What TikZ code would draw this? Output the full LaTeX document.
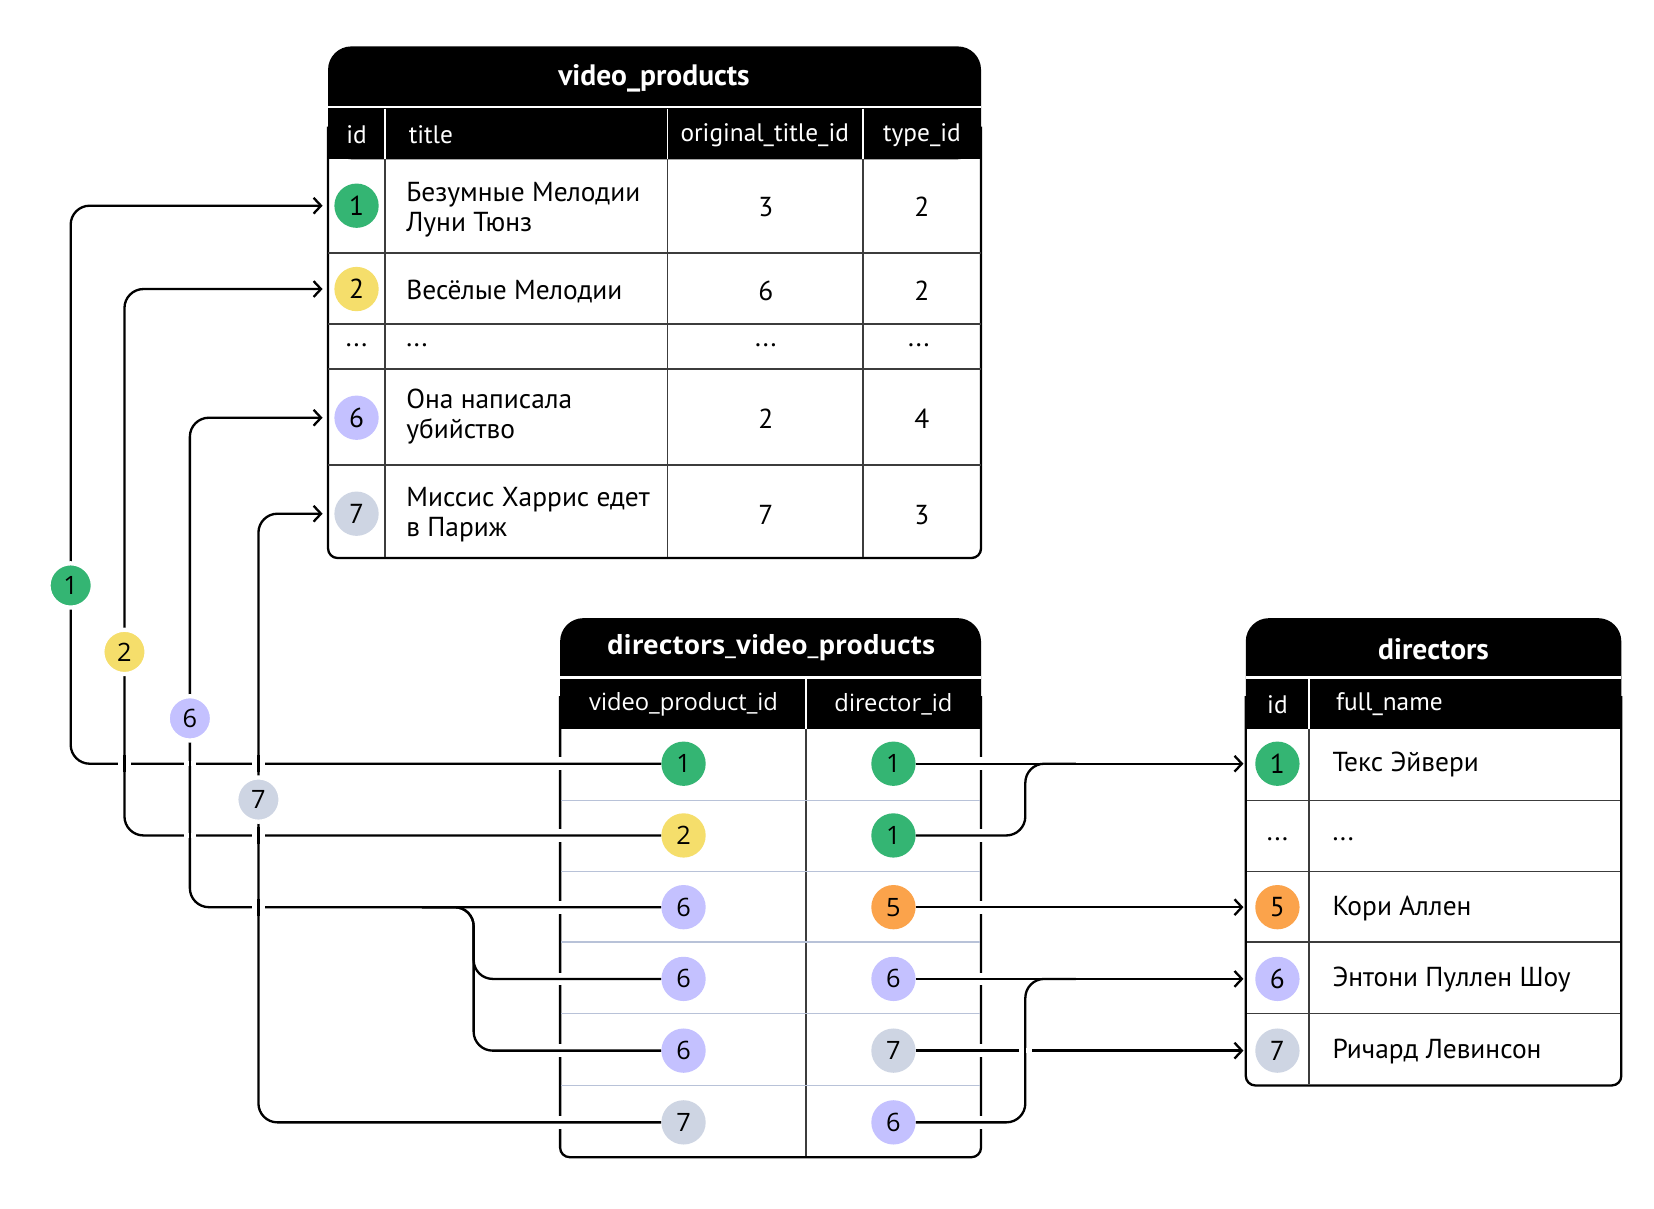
\documentclass[tikz,border=0pt]{standalone}
\usepackage{fontspec}
\setmainfont{PT Sans}
\newfontfamily\osans{Open Sans}
\usetikzlibrary{arrows.meta}
\definecolor{cgreen}{RGB}{52,181,115}
\definecolor{cyellow}{RGB}{245,222,107}
\definecolor{clav}{RGB}{196,193,255}
\definecolor{cgray}{RGB}{206,213,227}
\definecolor{corange}{RGB}{251,163,75}
\definecolor{grid}{RGB}{60,60,60}
\definecolor{lgrid}{RGB}{184,194,216}
\tikzset{
  conn/.style={draw=black, line width=2.2, rounded corners=18},
  arr/.style={-{Straight Barb[length=7,width=15,line width=2.2]}, shorten >=11},
  dot/.style={circle, minimum size=42, inner sep=0, font=\fontsize{26}{26}\selectfont},
  mdot/.style={circle, minimum size=42, inner sep=0, font=\osans\fontsize{24}{24}\selectfont},
  lab/.style={mdot, draw=white, line width=4},
  ttl/.style={text=white, font=\bfseries\fontsize{28}{32}\selectfont},
  mttl/.style={text=white, font=\osans\bfseries\fontsize{25}{29}\selectfont},
  hdr/.style={text=white, font=\fontsize{24}{28}\selectfont},
  mhdr/.style={text=white, font=\osans\fontsize{22.5}{26}\selectfont},
  cell/.style={font=\fontsize{26}{28}\selectfont, inner sep=0},
  ccell/.style={align=left, anchor=west, font=\fontsize{26}{28}\selectfont, inner sep=0},
  tb/.style={draw=black, line width=2.2},
  gl/.style={draw=grid, line width=1.4},
  lgl/.style={draw=lgrid, line width=1.4},
  wsep/.style={draw=white, line width=2.5},
  gap/.style={draw=white, line width=5}
}
\begin{document}
\begin{tikzpicture}[x=1pt,y=-1pt]
\useasboundingbox (0,0) rectangle (1568,1146);
\fill[white] (0,0) rectangle (1568,1146);

% ===== video_products =====
\draw[tb, rounded corners=9] (311,120) -- (311,529) -- (930,529) -- (930,120);
\fill[black, rounded corners=22] (311,44) rectangle (930,151);
\fill[black] (311,120) rectangle (930,151);
\draw[wsep] (311,101.5) -- (930,101.5);
\foreach \x in {365,633,818} \draw[draw=white, line width=1.4] (\x,103) -- (\x,151);
\foreach \x in {365,633,818} \draw[gl] (\x,151) -- (\x,528);
\foreach \y in {240,307,350,441} \draw[gl] (311,\y) -- (930,\y);
\node[ttl] (vpt) at (620,74) {video\_products};
\node[hdr] (vph1) at (338,128) {id};
\node[hdr, anchor=west] (vph2) at (384,128) {title};
\node[hdr] (vph3) at (725,128) {original\_title\_id};
\node[hdr] (vph4) at (874,128) {type\_id};
\node[dot, fill=cgreen] (v1) at (338,195) {1};
\node[dot, fill=cyellow] (v2) at (338,274) {2};
\node[dot, fill=clav] (v6) at (338,396) {6};
\node[dot, fill=cgray] (v7) at (338,487) {7};
\node[cell] (vd0) at (338,327) {...};
\node[ccell] (vt1) at (385,199) {Безумные Мелодии\\Луни Тюнз};
\node[ccell] (vt2) at (385,276) {Весёлые Мелодии};
\node[ccell] (vt3) at (385,327) {...};
\node[ccell] (vt6) at (385,395) {Она написала\\убийство};
\node[ccell] (vt7) at (385,488) {Миссис Харрис едет\\в Париж};
\node[cell] (vo1) at (726,196) {3};
\node[cell] (vo2) at (726,276) {6};
\node[cell] (vo3) at (726,327) {...};
\node[cell] (vo6) at (726,397) {2};
\node[cell] (vo7) at (726,488) {7};
\node[cell] (vy1) at (874,196) {2};
\node[cell] (vy2) at (874,276) {2};
\node[cell] (vy3) at (871,327) {...};
\node[cell] (vy6) at (874,397) {4};
\node[cell] (vy7) at (874,488) {3};

% ===== directors_video_products =====
\draw[tb, rounded corners=9] (531,660) -- (531,1097) -- (930,1097) -- (930,660);
\fill[black, rounded corners=22] (531,586) rectangle (930,691);
\fill[black] (531,660) rectangle (930,691);
\draw[wsep] (531,642.5) -- (930,642.5);
\draw[draw=white, line width=1.2] (764,644) -- (764,691);
\draw[gl, line width=1.2] (764,691) -- (764,1096);
\foreach \y in {759,826,893,961,1029} \draw[lgl] (532,\y) -- (929,\y);
\node[mttl] (dvt) at (731,614) {directors\_video\_products};
\node[mhdr] (dvh1) at (648,668) {video\_product\_id};
\node[mhdr] (dvh2) at (847,668) {director\_id};
\node[mdot, fill=cgreen] (a1) at (648,724) {1};
\node[mdot, fill=cyellow] (a2) at (648,792) {2};
\node[mdot, fill=clav] (a3) at (648,860) {6};
\node[mdot, fill=clav] (a4) at (648,928) {6};
\node[mdot, fill=clav] (a5) at (648,996) {6};
\node[mdot, fill=cgray] (a6) at (648,1064) {7};
\node[mdot, fill=cgreen] (b1) at (847,724) {1};
\node[mdot, fill=cgreen] (b2) at (847,792) {1};
\node[mdot, fill=corange] (b3) at (847,860) {5};
\node[mdot, fill=clav] (b4) at (847,928) {6};
\node[mdot, fill=cgray] (b5) at (847,996) {7};
\node[mdot, fill=clav] (b6) at (847,1064) {6};

% ===== directors =====
\draw[tb, rounded corners=9] (1181,660) -- (1181,1029) -- (1537,1029) -- (1537,660);
\fill[black, rounded corners=22] (1181,586) rectangle (1537,691);
\fill[black] (1181,660) rectangle (1537,691);
\draw[wsep] (1181,642.5) -- (1537,642.5);
\draw[draw=white, line width=1.4] (1241,644) -- (1241,691);
\draw[gl] (1241,691) -- (1241,1028);
\foreach \y in {759,826,893,961} \draw[gl] (1182,\y) -- (1536,\y);
\node[ttl] (drt) at (1359,615) {directors};
\node[hdr] (drh1) at (1211,668) {id};
\node[hdr, anchor=west] (drh2) at (1263,668) {full\_name};
\node[dot, fill=cgreen] (d1) at (1211,724) {1};
\node[cell] (dd0) at (1211,796) {...};
\node[dot, fill=corange] (d5) at (1211,860) {5};
\node[dot, fill=clav] (d6) at (1211,928) {6};
\node[dot, fill=cgray] (d7) at (1211,996) {7};
\node[ccell] (dn1) at (1263,725) {Текс Эйвери};
\node[ccell] (dn0) at (1263,796) {...};
\node[ccell] (dn5) at (1263,861) {Кори Аллен};
\node[ccell] (dn6) at (1263,929) {Энтони Пуллен Шоу};
\node[ccell] (dn7) at (1263,997) {Ричард Левинсон};

% gaps in table borders where connectors cross
\foreach \y in {724,792,860,928,996,1064} {
  \draw[gap] (531,\y-6) -- (531,\y+6);
  \draw[gap] (930,\y-6) -- (930,\y+6);
}

% ===== connectors =====
\coordinate (k1) at (67,555);
\coordinate (k2) at (118,618);
\coordinate (k6) at (180,681);
\coordinate (k7) at (245,758);
\coordinate (j6) at (400,860);
\coordinate (j1) at (1020,724);
\coordinate (j6r) at (1020,928);

\draw[conn, arr] (a1.west) -| (k1) |- (v1.west);
\draw[conn, arr] (a2.west) -| (k2) |- (v2.west);
\draw[conn, arr] (a3.west) -| (k6) |- (v6.west);
\draw[conn, arr] (a6.west) -| (k7) |- (v7.west);
\draw[conn] (a4.west) -- (449,928) -- (449,860) -- (j6);
\draw[conn] (a5.west) -- (449,996) -- (449,860) -- (j6);

\draw[conn, arr] (b1.east) -- (d1.west);
\draw[conn] (b2.east) -- (972,792) -- (972,724) -- (j1);
\draw[conn, arr] (b3.east) -- (d5.west);
\draw[conn, arr] (b4.east) -- (d6.west);
\draw[conn, arr] (b5.east) -- (d7.west);
\draw[conn] (b6.east) -- (972,1064) -- (972,928) -- (j6r);

% crossings: vertical over horizontal
\foreach \x/\y in {118/724,180/724,245/724,180/792,245/792,245/860,972/996} {
  \draw[gap] (\x-6,\y) -- (\x+6,\y);
  \draw[draw=black, line width=2.2] (\x,\y-8) -- (\x,\y+8);
}

% labels on lines
\node[lab, fill=cgreen] (l1) at (k1) {1};
\node[lab, fill=cyellow] (l2) at (k2) {2};
\node[lab, fill=clav] (l6) at (k6) {6};
\node[lab, fill=cgray] (l7) at (k7) {7};
\end{tikzpicture}
\end{document}
